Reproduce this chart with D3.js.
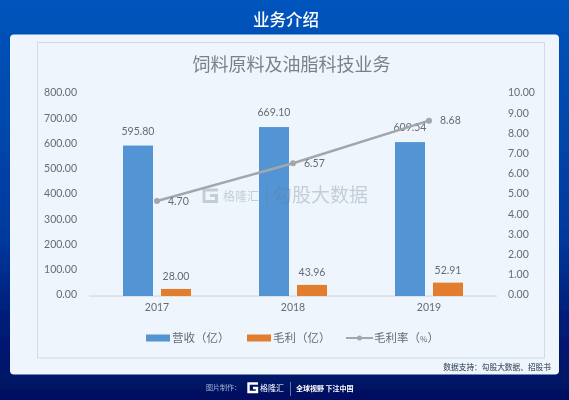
<!DOCTYPE html>
<html>
<head>
<meta charset="utf-8">
<script src="https://cdn.jsdelivr.net/npm/d3@7"></script>
<style>
  html, body { margin: 0; padding: 0; background: #001060; }
  svg { display: block; }
  text { font-family: "Noto Sans CJK SC", "Noto Sans", sans-serif; }
  text.num { font-family: Lato, "Noto Sans", sans-serif; }
</style>
</head>
<body>
<svg id="chart"></svg>
<script>
const w = 569;
const h = 400;

const years = ['2017', '2018', '2019'];
const revenue = [595.80, 669.10, 609.54];
const profit = [28.00, 43.96, 52.91];
const margin = [4.70, 6.57, 8.68];
const leftTicks = [0, 100, 200, 300, 400, 500, 600, 700, 800];
const rightTicks = [0, 1, 2, 3, 4, 5, 6, 7, 8, 9, 10];
const seriesNames = ['营收（亿）', '毛利（亿）', '毛利率（'];

const blue = '#5294d4';
const orange = '#e27d2e';
const grey = '#a3a6aa';
const textGrey = '#666c72';

const svg = d3.select('#chart')
  .attr('width', w)
  .attr('height', h);

const defs = svg.append('defs');
const bg = defs.append('linearGradient')
  .attr('id', 'bg')
  .attr('x1', 0).attr('y1', 0).attr('x2', 0).attr('y2', 1);
bg.append('stop').attr('offset', '0%').attr('stop-color', '#0054bc');
bg.append('stop').attr('offset', '30%').attr('stop-color', '#0048ac');
bg.append('stop').attr('offset', '60%').attr('stop-color', '#00389c');
bg.append('stop').attr('offset', '80%').attr('stop-color', '#001c78');
bg.append('stop').attr('offset', '100%').attr('stop-color', '#001060');

// the reference is a soft upscaled image
defs.append('filter')
  .attr('id', 'soft')
  .append('feGaussianBlur')
  .attr('stdDeviation', 0.3);

const root = svg.append('g').attr('filter', 'url(#soft)');

root.append('rect').attr('width', w).attr('height', h).attr('fill', 'url(#bg)');

root.append('text')
  .attr('x', 286).attr('y', 26)
  .attr('text-anchor', 'middle')
  .attr('font-size', 16.5)
  .attr('font-weight', 500)
  .attr('fill', '#fff')
  .text('业务介绍');

// card + chart frame
root.append('rect')
  .attr('x', 10).attr('y', 34.5).attr('width', 549).attr('height', 340)
  .attr('rx', 4)
  .attr('fill', '#eef5fd');
root.append('rect')
  .attr('x', 37.5).attr('y', 42.5).attr('width', 507).attr('height', 315.5)
  .attr('fill', 'none')
  .attr('stroke', '#d5dbe6');

root.append('text')
  .attr('x', 291.5).attr('y', 71)
  .attr('text-anchor', 'middle')
  .attr('font-size', 18)
  .attr('fill', '#7d8185')
  .text('饲料原料及油脂科技业务');

// scales
const x = d3.scaleBand()
  .domain(years)
  .range([89, 497]);
const yLeft = d3.scaleLinear().domain([0, 800]).range([296, 94]);
const yRight = d3.scaleLinear().domain([0, 10]).range([296, 94]);

// axes, tick lines hidden
const axisLeft = d3.axisLeft(yLeft)
  .tickValues(leftTicks)
  .tickSize(0)
  .tickPadding(0)
  .tickFormat(d3.format('.2f'));
const gLeft = root.append('g')
  .attr('transform', 'translate(77,-1.5)')
  .call(axisLeft);
gLeft.select('.domain').remove();

const axisRight = d3.axisRight(yRight)
  .tickValues(rightTicks)
  .tickSize(0)
  .tickPadding(0)
  .tickFormat(d3.format('.2f'));
const gRight = root.append('g')
  .attr('transform', 'translate(508,-1.5)')
  .call(axisRight);
gRight.select('.domain').remove();

const axisBottom = d3.axisBottom(x).tickSize(0).tickPadding(0);
const gBottom = root.append('g')
  .attr('transform', 'translate(0,304)')
  .call(axisBottom);
gBottom.select('.domain').remove();

root.selectAll('.tick text')
  .attr('class', 'num')
  .attr('font-size', 10.5)
  .attr('fill', textGrey);

root.append('line')
  .attr('x1', 89).attr('x2', 497)
  .attr('y1', 296).attr('y2', 296)
  .attr('stroke', '#ccd2d9');

// bars
const barW = 30;
const barOffset = 19;

root.append('g').selectAll('rect')
  .data(revenue)
  .enter()
  .append('rect')
  .attr('x', (d, i) => x(years[i]) + x.bandwidth() / 2 - barOffset - barW / 2)
  .attr('y', d => yLeft(d))
  .attr('width', barW)
  .attr('height', d => yLeft(0) - yLeft(d))
  .attr('fill', blue);

root.append('g').selectAll('rect')
  .data(profit)
  .enter()
  .append('rect')
  .attr('x', (d, i) => x(years[i]) + x.bandwidth() / 2 + barOffset - barW / 2)
  .attr('y', d => yLeft(d))
  .attr('width', barW)
  .attr('height', d => yLeft(0) - yLeft(d))
  .attr('fill', orange);

// watermark lies over the bars, faintly
const mark = root.append('g').attr('fill', '#6b7a8a').attr('opacity', 0.32);
mark.append('path')
  .attr('d', 'M218 190H204V201.5H216.5V195.5H210')
  .attr('fill', 'none')
  .attr('stroke', '#6b7a8a')
  .attr('stroke-width', 3);
mark.append('text')
  .attr('x', 223).attr('y', 200.5)
  .attr('font-size', 12)
  .text('格隆汇');
mark.append('line')
  .attr('x1', 267).attr('x2', 267).attr('y1', 185).attr('y2', 206)
  .attr('stroke', '#6b7a8a');
mark.append('text')
  .attr('x', 273).attr('y', 202)
  .attr('font-size', 19)
  .text('勾股大数据');

// bar labels
root.append('g').selectAll('text')
  .data(revenue)
  .enter()
  .append('text')
  .attr('class', 'num')
  .attr('x', (d, i) => x(years[i]) + x.bandwidth() / 2 - barOffset)
  .attr('y', d => yLeft(d) - 11)
  .attr('text-anchor', 'middle')
  .attr('font-size', 10.5)
  .attr('fill', textGrey)
  .text(d => d3.format('.2f')(d));

root.append('g').selectAll('text')
  .data(profit)
  .enter()
  .append('text')
  .attr('class', 'num')
  .attr('x', (d, i) => x(years[i]) + x.bandwidth() / 2 + barOffset)
  .attr('y', d => yLeft(d) - 9)
  .attr('text-anchor', 'middle')
  .attr('font-size', 10.5)
  .attr('fill', textGrey)
  .text(d => d3.format('.2f')(d));

// margin line
const line = d3.line()
  .x((d, i) => x(years[i]) + x.bandwidth() / 2)
  .y(d => yRight(d));

root.append('path')
  .datum(margin)
  .attr('d', line)
  .attr('fill', 'none')
  .attr('stroke', grey)
  .attr('stroke-width', 2.5);

root.append('g').selectAll('circle')
  .data(margin)
  .enter()
  .append('circle')
  .attr('cx', (d, i) => x(years[i]) + x.bandwidth() / 2)
  .attr('cy', d => yRight(d))
  .attr('r', 3)
  .attr('fill', grey);

root.append('g').selectAll('text')
  .data(margin)
  .enter()
  .append('text')
  .attr('class', 'num')
  .attr('x', (d, i) => x(years[i]) + x.bandwidth() / 2 + 11)
  .attr('y', d => yRight(d) + 3.5)
  .attr('font-size', 10.5)
  .attr('fill', textGrey)
  .text(d => d3.format('.2f')(d));

// legend
const legendY = 338;
const legend = root.append('g').attr('font-size', 11.5).attr('fill', textGrey);

legend.append('rect')
  .attr('x', 146).attr('y', legendY - 3.5).attr('width', 24).attr('height', 7)
  .attr('fill', blue);
legend.append('rect')
  .attr('x', 247).attr('y', legendY - 3.5).attr('width', 24).attr('height', 7)
  .attr('fill', orange);
legend.append('line')
  .attr('x1', 346).attr('x2', 373)
  .attr('y1', legendY).attr('y2', legendY)
  .attr('stroke', grey).attr('stroke-width', 2);
legend.append('circle')
  .attr('cx', 359.5).attr('cy', legendY).attr('r', 2.5).attr('fill', grey);

const legendText = legend.selectAll('text')
  .data(seriesNames)
  .enter()
  .append('text')
  .attr('x', (d, i) => [172, 273, 374][i])
  .attr('y', legendY + 4)
  .attr('fill', textGrey)
  .text(d => d);
// the percent sign is smaller than the rest of the legend text
legendText.filter((d, i) => i === 2)
  .append('tspan').attr('font-size', 8).text('%');
legendText.filter((d, i) => i === 2)
  .append('tspan').text('）');

// footer
root.append('text')
  .attr('x', 551).attr('y', 370)
  .attr('text-anchor', 'end')
  .attr('font-size', 7.7)
  .attr('font-weight', 500)
  .attr('fill', '#4d5a6b')
  .text('数据支持：勾股大数据、招股书');

root.append('text')
  .attr('x', 206).attr('y', 390)
  .attr('font-size', 7)
  .attr('fill', '#a9b6d4')
  .text('图片制作：');

root.append('path')
  .attr('d', 'M258 383.5H248.5V392H257V388H253')
  .attr('fill', 'none')
  .attr('stroke', '#fff')
  .attr('stroke-width', 2.4);
root.append('text')
  .attr('x', 260).attr('y', 391)
  .attr('font-size', 8)
  .attr('fill', '#fff')
  .text('格隆汇');
root.append('line')
  .attr('x1', 290.5).attr('x2', 290.5).attr('y1', 382).attr('y2', 396)
  .attr('stroke', '#5c74a8');
root.append('text')
  .attr('x', 296).attr('y', 391)
  .attr('font-size', 7)
  .attr('font-weight', 700)
  .attr('fill', '#fff')
  .text('全球视野 下注中国');
</script>
</body>
</html>
